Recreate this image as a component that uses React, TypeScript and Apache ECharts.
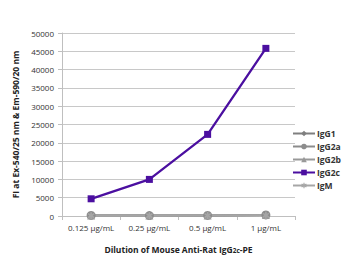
import React, { useEffect, useRef } from "react";
import * as echarts from "echarts";

const categories = ["0.125 µg/mL", "0.25 µg/mL", "0.5 µg/mL", "1 µg/mL"];
const seriesNames = ["IgG1", "IgG2a", "IgG2b", "IgG2c", "IgM"];
const igG1 = [150, 120, 150, 250];
const igG2a = [150, 130, 160, 300];
const igG2b = [120, 110, 140, 250];
const igG2c = [4700, 10000, 22300, 45800];
const igM = [100, 100, 120, 200];
const yTicks = [0, 50000, 5000];

const asterisk =
  "path://M4,0H6V3.2L8.6,1.4L9.8,3L7,5L9.8,7L8.6,8.6L6,6.8V10H4V6.8L1.4,8.6L0.2,7L3,5L0.2,3L1.4,1.4L4,3.2Z";

const App: React.FC = () => {
  const ref = useRef<HTMLDivElement>(null);
  useEffect(() => {
    if (!ref.current) return;
    const chart = echarts.init(ref.current, undefined, { renderer: "svg" });
    const font = "'Open Sans', 'Liberation Sans', sans-serif";
    const mk = (name: string, data: number[], color: string, symbol: string, size: number) => ({
      name,
      type: "line",
      data,
      symbol,
      symbolSize: size,
      itemStyle: { color },
      lineStyle: { color, width: name === "IgG2c" ? 2.3 : 2 },
      z: name === "IgG2c" ? 3 : 2,
    });
    chart.setOption({
      animation: false,
      backgroundColor: "#fff",
      graphic: [
        {
          type: "rect",
          shape: { x: 4, y: 4, width: 360, height: 273 },
          style: { fill: "none", stroke: "#d9d9d9", lineWidth: 1 },
          silent: true,
        },
      ],
      grid: { left: 62, right: 63, top: 33, bottom: 62 },
      xAxis: {
        type: "category",
        data: categories,
        boundaryGap: true,
        axisLine: { lineStyle: { color: "#bfbfbf" } },
        axisTick: { show: true, lineStyle: { color: "#bfbfbf" }, length: 4 },
        axisLabel: { color: "#333", fontSize: 8, fontFamily: font, margin: 7, interval: 0, hideOverlap: false },
        name: "{a|Dilution of Mouse Anti-Rat IgG}{s|2c}{a|-PE}",
        nameLocation: "middle",
        nameGap: 28,
        nameTextStyle: {
          rich: {
            a: { fontSize: 8.5, fontWeight: "bold", color: "#222", fontFamily: font },
            s: { fontSize: 6.5, fontWeight: "bold", color: "#222", fontFamily: font, padding: [3, 0, 0, 0] },
          },
        },
      },
      yAxis: {
        type: "value",
        min: yTicks[0],
        max: yTicks[1],
        interval: yTicks[2],
        axisLine: { show: true, lineStyle: { color: "#bfbfbf" } },
        axisTick: { show: true, lineStyle: { color: "#bfbfbf" }, length: 4 },
        splitLine: { lineStyle: { color: "#c8c8c8" } },
        axisLabel: { color: "#333", fontSize: 8, fontFamily: font, margin: 8, formatter: (v: number) => String(v) },
        name: "FI at Ex-540/25 nm & Em-590/20 nm",
        nameLocation: "middle",
        nameGap: 41,
        nameTextStyle: { fontSize: 8.5, fontWeight: "bold", color: "#222", fontFamily: font },
      },
      legend: {
        orient: "vertical",
        right: 12,
        top: 124,
        itemGap: 4,
        itemWidth: 22,
        itemHeight: 7,
        textStyle: { fontSize: 8.5, fontWeight: "bold", color: "#333", fontFamily: font, padding: [0, 0, 0, -3] },
        data: seriesNames,
      },
      series: [
        mk("IgG1", igG1, "#7f7f7f", "diamond", 8),
        mk("IgG2a", igG2a, "#8c8c8c", "circle", 9),
        mk("IgG2b", igG2b, "#999999", "triangle", 8),
        mk("IgG2c", igG2c, "#4b0fa0", "rect", 7),
        mk("IgM", igM, "#a6a6a6", asterisk, 7),
      ],
    });
    return () => chart.dispose();
  }, []);
  return <div ref={ref} style={{ width: 358, height: 278, margin: -8 }} />;
};

export default App;
